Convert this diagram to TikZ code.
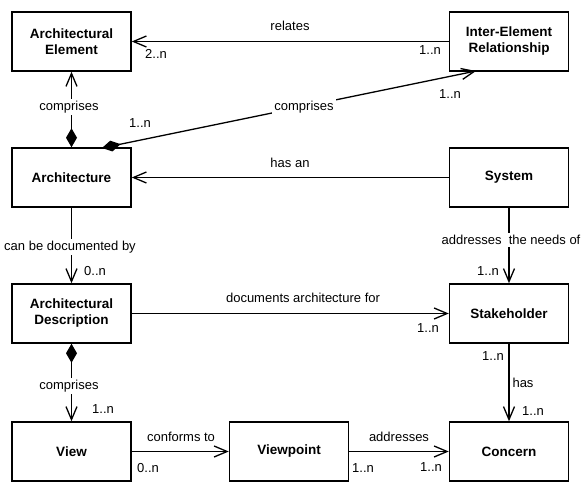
\documentclass[tikz,border=0pt]{standalone}
\usepackage{fontspec}
\setmainfont{Liberation Sans}
\usetikzlibrary{arrows.meta}
\begin{document}
\begin{tikzpicture}[x=1pt,y=-1pt,
  box/.style={draw,line width=1.5pt,minimum width=119pt,minimum height=59pt,inner sep=0pt,align=center,font=\fontsize{13.5}{16}\selectfont\bfseries},
  lbl/.style={font=\fontsize{13}{15}\selectfont,inner sep=1pt},
  wlbl/.style={lbl,fill=white,inner sep=2pt},
  conn/.style={line width=1.3pt,-{Straight Barb[length=13pt,width=11pt,line width=1.3pt]}},
  comp/.style={line width=1.3pt,{Diamond[length=19pt,width=11pt]}-{Straight Barb[length=13pt,width=11pt,line width=1.3pt]}}
]
\useasboundingbox (0,0) rectangle (583,489);
% boxes
\node[box] (ae)   at (71.5,41.5)  {Architectural\\Element};
\node[box] (ier)  at (509,41.5)   {Inter-Element\\Relationship};
\node[box] (arch) at (71.5,177.5) {Architecture};
\node[box] (sys)  at (509,177.5)  {System};
\node[box] (ad)   at (71.5,313.5) {Architectural\\Description};
\node[box] (sh)   at (509,313.5)  {Stakeholder};
\node[box] (view) at (71.5,451.5) {View};
\node[box] (vp)   at (289,451.5)  {Viewpoint};
\node[box] (con)  at (509,451.5)  {Concern};
% free ends of the diagonal
\coordinate (dstart) at (102,148);
\coordinate (dend) at (476,71);
% connectors
\draw[conn] (ier.west) -- (ae.east);
\draw[comp] (arch.north) -- (ae.south);
\draw[comp] (dstart) -- (dend);
\draw[conn] (sys.west) -- (arch.east);
\draw[conn] (arch.south) -- (ad.north);
\draw[conn] (ad.east) -- (sh.west);
\draw[conn] (sys.south) -- (sh.north);
\draw[conn] (sh.south) -- (con.north);
\draw[comp] (ad.south) -- (view.north);
\draw[conn] (view.east) -- (vp.west);
\draw[conn] (vp.east) -- (con.west);
% labels
\node[lbl] (l1) at (290,26) {relates};
\node[lbl] (l2) at (156,54) {2..n};
\node[lbl] (l3) at (430,50) {1..n};
\node[wlbl] (l4) at (69,107) {comprises};
\node[lbl] (l5) at (140,123) {1..n};
\node[wlbl] (l6) at (304,107) {comprises};
\node[lbl] (l7) at (450,94) {1..n};
\node[lbl] (l8) at (290,163) {has an};
\node[wlbl] (l9) at (70,247) {can be documented by};
\node[lbl] (l10) at (95,271) {0..n};
\node[lbl] (l11) at (303,298) {documents architecture for};
\node[lbl] (l12) at (428,328) {1..n};
\node[wlbl] (l13) at (511,240) {addresses\ \ the needs of};
\node[lbl] (l14) at (488,271) {1..n};
\node[lbl] (l15) at (493,356) {1..n};
\node[lbl] (l16) at (523,383) {has};
\node[lbl] (l17) at (533,411) {1..n};
\node[wlbl] (l18) at (69,386) {comprises};
\node[lbl] (l19) at (103,409) {1..n};
\node[lbl] (l20) at (181,437) {conforms to};
\node[lbl] (l21) at (148,468) {0..n};
\node[lbl] (l22) at (399,437) {addresses};
\node[lbl] (l23) at (363,468) {1..n};
\node[lbl] (l24) at (431,467) {1..n};
\end{tikzpicture}
\end{document}
